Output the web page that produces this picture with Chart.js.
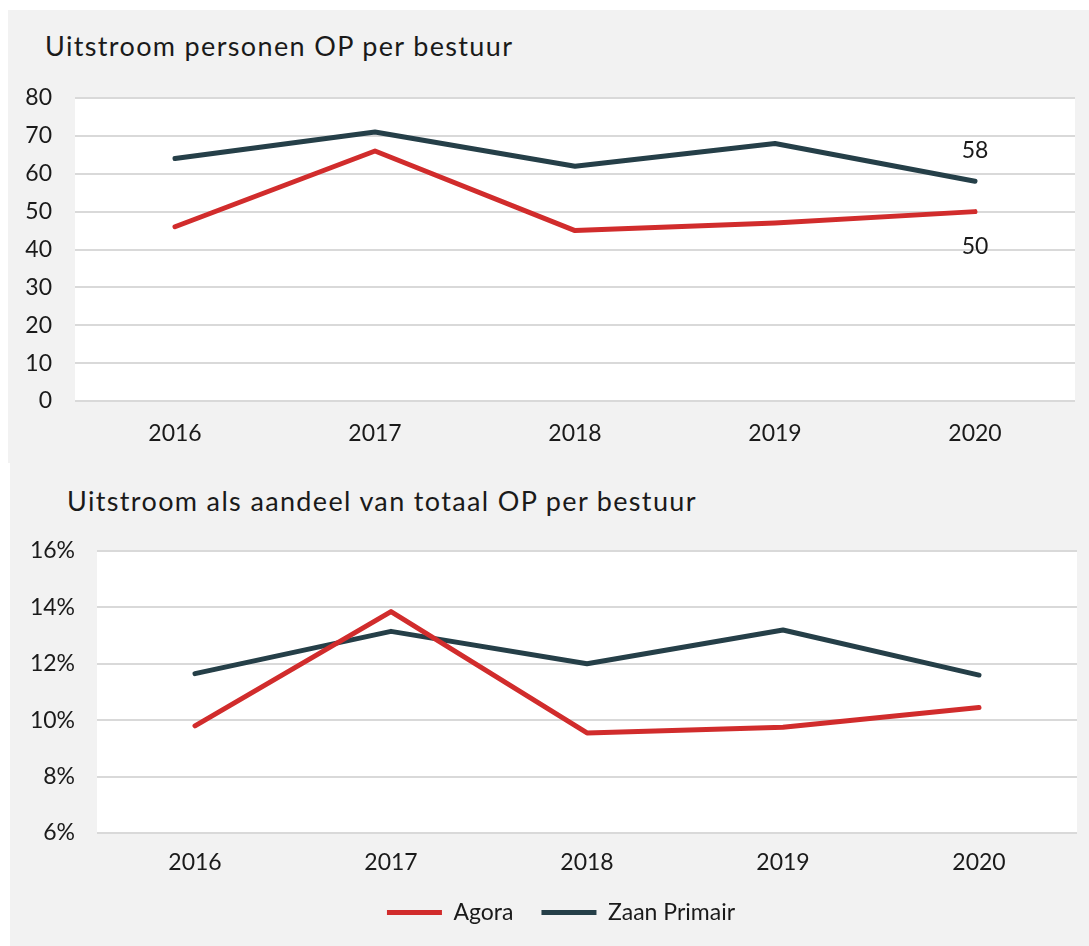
<!DOCTYPE html>
<html>
<head>
<meta charset="utf-8">
<script src="https://cdn.jsdelivr.net/npm/chart.js@4.4.1/dist/chart.umd.min.js"></script>
<style>
    body { margin: 0; background: #fff; width: 1089px; height: 946px; overflow: hidden; font-family: Lato, sans-serif; }
    .panel { position: absolute; background: #f2f2f2; }
    #topPanel { left: 8px; top: 10px; width: 1081px; height: 453px; }
    #bottomPanel { left: 10px; top: 463px; width: 1079px; height: 483px; }
    .title { position: absolute; font-size: 27px; line-height: 1; letter-spacing: 1.35px; color: #1a1a1a; white-space: nowrap; }
    canvas { position: absolute; left: 0; top: 0; }
</style>
</head>
<body>
<div class="panel" id="topPanel">
    <div class="title" style="left:37px; top:22px;">Uitstroom personen OP per bestuur</div>
    <canvas id="countChart" width="1081" height="453"></canvas>
</div>
<div class="panel" id="bottomPanel">
    <div class="title" style="left:57px; top:24px;">Uitstroom als aandeel van totaal OP per bestuur</div>
    <canvas id="shareChart" width="1079" height="483"></canvas>
</div>
<script>
const years = ['2016', '2017', '2018', '2019', '2020'];
const seriesNames = ['Agora', 'Zaan Primair'];

// uitstroom in personen
const agoraCount = [46, 66, 45, 47, 50];
const zaanCount = [64, 71, 62, 68, 58];

// uitstroom als aandeel (%)
const agoraShare = [9.8, 13.85, 9.55, 9.75, 10.45];
const zaanShare = [11.65, 13.15, 12.0, 13.2, 11.6];

const RED = '#d12c2c';
const DARK = '#253f48';
const GRID = '#d9d9d9';
const TEXT = '#1a1a1a';

Chart.defaults.font.family = 'Lato, sans-serif';
Chart.defaults.color = TEXT;
Chart.defaults.animation = false;

// white plot area on top of the grey panel
const plotBackground = {
    id: 'plotBackground',
    beforeDraw(chart) {
        const a = chart.chartArea;
        chart.ctx.save();
        chart.ctx.fillStyle = '#ffffff';
        chart.ctx.fillRect(a.left, a.top, a.right - a.left, a.bottom - a.top);
        chart.ctx.restore();
    }
};

// value label at the last point of each line (top chart only)
const lastValueLabels = {
    id: 'lastValueLabels',
    afterDatasetsDraw(chart, args, opts) {
        const ctx = chart.ctx;
        ctx.save();
        ctx.font = '23px Lato, sans-serif';
        ctx.fillStyle = TEXT;
        ctx.textAlign = 'center';
        ctx.textBaseline = 'middle';
        chart.data.datasets.forEach((ds, i) => {
            const meta = chart.getDatasetMeta(i);
            const last = meta.data.length - 1;
            const pt = meta.data[last];
            ctx.fillText(String(ds.data[last]), pt.x, pt.y + opts.offsets[i]);
        });
        ctx.restore();
    }
};

// legend in the original sits a bit right of the canvas centre
const legendShift = {
    id: 'legendShift',
    afterLayout(chart, args, opts) {
        const lg = chart.legend;
        if (!lg) return;
        lg.left += opts.dx;
        lg.right += opts.dx;
    }
};

function lineDataset(label, data, color) {
    return {
        label: label,
        data: data,
        borderColor: color,
        backgroundColor: color,
        borderWidth: 5,
        borderCapStyle: 'round',
        borderJoinStyle: 'round',
        pointRadius: 0,
        tension: 0,
        fill: false
    };
}

new Chart(document.getElementById('countChart'), {
    type: 'line',
    data: {
        labels: years,
        datasets: [
            lineDataset(seriesNames[0], agoraCount, RED),
            lineDataset(seriesNames[1], zaanCount, DARK)
        ]
    },
    options: {
        responsive: false,
        layout: { padding: { top: 88, right: 14, left: 0, bottom: 0 } },
        scales: {
            x: {
                offset: true,
                grid: { display: false },
                border: { display: false },
                ticks: { font: { size: 23 }, padding: 11, color: TEXT },
                afterFit(scale) { scale.height = 62; }
            },
            y: {
                min: 0,
                max: 80,
                ticks: { stepSize: 10, font: { size: 23 }, padding: 23, color: TEXT },
                grid: { color: GRID, lineWidth: 2, drawTicks: false },
                border: { display: false },
                afterFit(scale) { scale.width = 67; }
            }
        },
        plugins: {
            legend: { display: false },
            tooltip: { enabled: false },
            lastValueLabels: { offsets: [35, -31] }
        }
    },
    plugins: [plotBackground, lastValueLabels]
});

new Chart(document.getElementById('shareChart'), {
    type: 'line',
    data: {
        labels: years,
        datasets: [
            lineDataset(seriesNames[0], agoraShare, RED),
            lineDataset(seriesNames[1], zaanShare, DARK)
        ]
    },
    options: {
        responsive: false,
        layout: { padding: { top: 88, right: 12, left: 0, bottom: 12 } },
        scales: {
            x: {
                offset: true,
                grid: { display: false },
                border: { display: false },
                ticks: { font: { size: 23 }, padding: 8, color: TEXT },
                afterFit(scale) { scale.height = 40; }
            },
            y: {
                min: 6,
                max: 16,
                ticks: {
                    stepSize: 2,
                    font: { size: 23 },
                    padding: 22,
                    color: TEXT,
                    callback: function(value) {
                        return value + '%';
                    }
                },
                grid: { color: GRID, lineWidth: 2, drawTicks: false },
                border: { display: false },
                afterFit(scale) { scale.width = 87; }
            }
        },
        plugins: {
            legend: {
                display: true,
                position: 'bottom',
                labels: {
                    usePointStyle: true,
                    pointStyle: 'line',
                    pointStyleWidth: 55,
                    font: { size: 23 },
                    color: TEXT,
                    padding: 28
                }
            },
            tooltip: { enabled: false },
            legendShift: { dx: 17.5 }
        }
    },
    plugins: [plotBackground, legendShift]
});
</script>
</body>
</html>
